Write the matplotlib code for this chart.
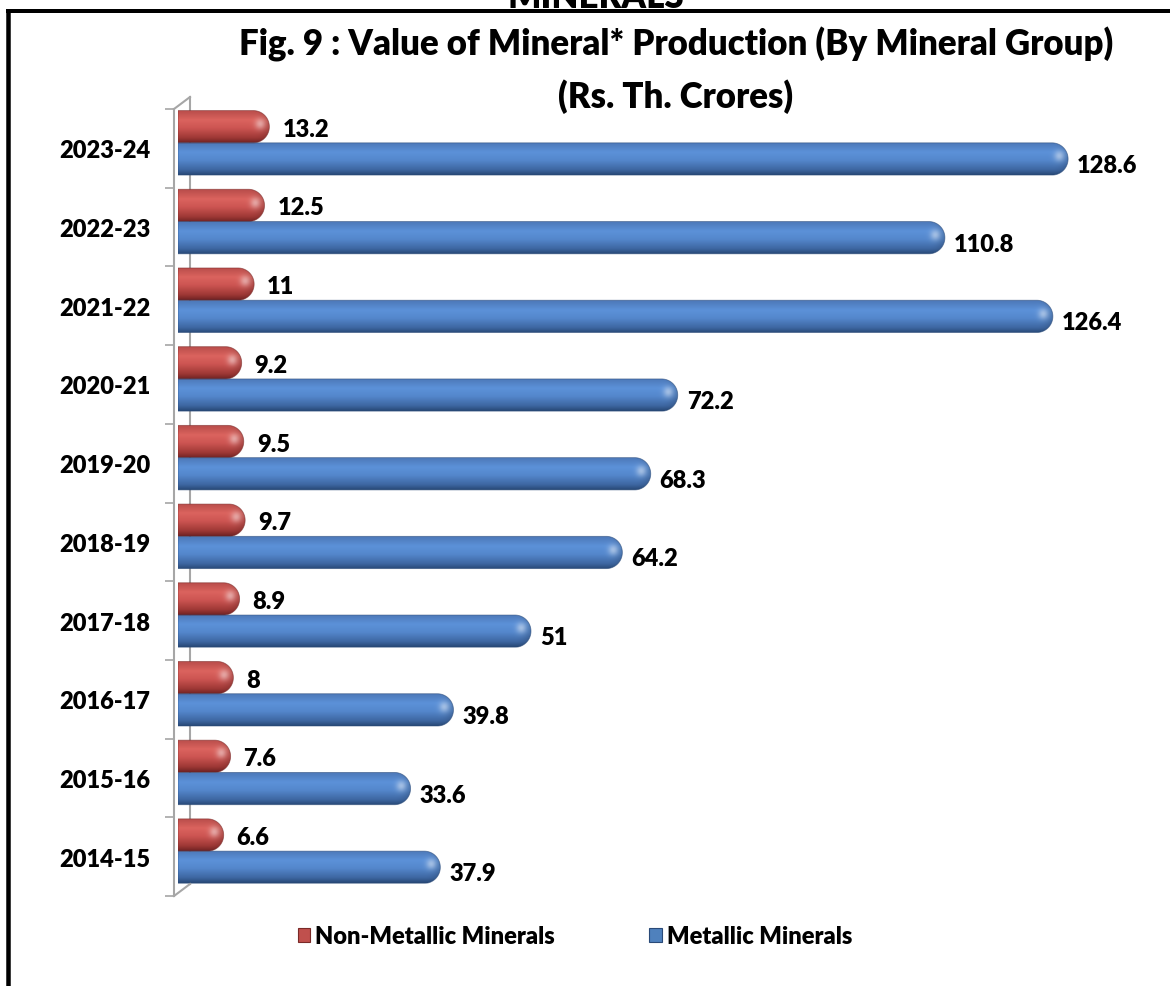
import numpy as np
import matplotlib
matplotlib.use("Agg")
import matplotlib.pyplot as plt
from matplotlib.path import Path
from matplotlib.patches import PathPatch, Patch
from matplotlib.lines import Line2D
import matplotlib.transforms as mtransforms

# ---------------- data ----------------
years = ['2014-15', '2015-16', '2016-17', '2017-18', '2018-19',
         '2019-20', '2020-21', '2021-22', '2022-23', '2023-24']
non_metallic = [6.6, 7.6, 8.0, 8.9, 9.7, 9.5, 9.2, 11.0, 12.5, 13.2]
metallic = [37.9, 33.6, 39.8, 51.0, 64.2, 68.3, 72.2, 126.4, 110.8, 128.6]
non_metallic_labels = ['6.6', '7.6', '8', '8.9', '9.7', '9.5', '9.2', '11', '12.5', '13.2']
metallic_labels = ['37.9', '33.6', '39.8', '51', '64.2', '68.3', '72.2', '126.4', '110.8', '128.6']
series_names = ['Non-Metallic Minerals', 'Metallic Minerals']

FONT = ['Lato', 'DejaVu Sans']
plt.rcParams['font.family'] = FONT
WEIGHT = 'heavy'

W, H, DPI = 1170, 987, 100
fig = plt.figure(figsize=(W / DPI, H / DPI), dpi=DPI)
fig.patch.set_facecolor('white')

ax_left, ax_right = 178, 1147
ax_top, ax_bot = 110, 897
ax = fig.add_axes([ax_left / W, 1 - ax_bot / H, (ax_right - ax_left) / W, (ax_bot - ax_top) / H])
XMAX = 140
n = len(years)
ax.set_xlim(0, XMAX)
ax.set_ylim(-0.5, n - 0.5)
pxx = (ax_right - ax_left) / XMAX
pxy = (ax_bot - ax_top) / n

BAR_H = 0.41
y = np.arange(n)
y_red = y + 0.275
y_blue = y - 0.135

red_stops = [(0.0, (0.72, 0.30, 0.29)), (0.3, (0.86, 0.39, 0.37)), (0.55, (0.80, 0.33, 0.32)),
             (0.85, (0.62, 0.22, 0.21)), (1.0, (0.45, 0.14, 0.14))]
blue_stops = [(0.0, (0.30, 0.47, 0.72)), (0.3, (0.36, 0.57, 0.85)), (0.55, (0.33, 0.53, 0.80)),
              (0.85, (0.24, 0.40, 0.63)), (1.0, (0.16, 0.29, 0.47))]


def make_img(wpx, hpx, stops, rxp):
    pos = [p for p, _ in stops]
    cols = np.array([c for _, c in stops])
    t = np.linspace(0, 1, hpx)
    base = np.stack([np.interp(t, pos, cols[:, k]) for k in range(3)], axis=-1)
    img = np.repeat(base[:, None, :], wpx, axis=1)
    xs = np.arange(wpx) + 0.5
    cap_start = wpx - rxp
    u = np.clip((xs - cap_start) / rxp, 0, 1)
    fac = 1 - 0.18 * u ** 2
    img = img * fac[None, :, None]
    yy, xx = np.mgrid[0:hpx, 0:wpx] + 0.5
    cx, cy = wpx - rxp * 0.6, hpx * 0.42
    d = np.sqrt((xx - cx) ** 2 + (yy - cy) ** 2)
    hl = np.exp(-(d / (rxp * 0.32)) ** 2) * 0.45
    img = img + (1 - img) * hl[..., None]
    return np.clip(img, 0, 1)


def capsule(x0, y0, w, h, rx):
    rx = min(rx, w)
    xc = x0 + w - rx
    yc = y0 + h / 2
    th = np.linspace(-np.pi / 2, np.pi / 2, 50)
    arc = np.column_stack([xc + rx * np.cos(th), yc + (h / 2) * np.sin(th)])
    verts = [(x0, y0)] + [tuple(p) for p in arc] + [(x0, y0 + h), (x0, y0)]
    codes = [Path.MOVETO] + [Path.LINETO] * (len(verts) - 2) + [Path.CLOSEPOLY]
    return Path(verts, codes)


def draw_cylinders(bars, stops, edge):
    for b in bars:
        b.set_visible(False)
        x0, y0, w, h = b.get_x(), b.get_y(), b.get_width(), b.get_height()
        hpx = max(int(round(h * pxy)), 2)
        wpx = max(int(round(w * pxx)), 2)
        rxp = hpx / 2.0
        rx = rxp / pxx
        path = capsule(x0, y0, w, h, rx)
        img = make_img(wpx, hpx, stops, rxp)
        im = ax.imshow(img, extent=(x0, x0 + w, y0, y0 + h), origin='upper',
                       aspect='auto', interpolation='bilinear', zorder=3)
        clip = PathPatch(path, transform=ax.transData, facecolor='none', edgecolor='none')
        ax.add_patch(clip)
        im.set_clip_path(clip)
        ax.add_patch(PathPatch(path, facecolor='none', edgecolor=edge, lw=0.6, alpha=0.6, zorder=4))


red_bars = ax.barh(y_red, non_metallic, height=BAR_H, color='#C0504D')
blue_bars = ax.barh(y_blue, metallic, height=BAR_H, color='#4F81BD')
draw_cylinders(red_bars, red_stops, '#7a2a28')
draw_cylinders(blue_bars, blue_stops, '#2a4a78')
ax.set_xlim(0, XMAX)
ax.set_ylim(-0.5, n - 0.5)

# value labels
LBL = 17
for yy_, v, lab in zip(y_red, non_metallic, non_metallic_labels):
    ax.annotate(lab, (v, yy_), xytext=(13, -2), textcoords='offset pixels',
                ha='left', va='center', fontsize=LBL, fontweight=WEIGHT, color='black', zorder=5)
for yy_, v, lab in zip(y_blue, metallic, metallic_labels):
    ax.annotate(lab, (v, yy_), xytext=(9, -6), textcoords='offset pixels',
                ha='left', va='center', fontsize=LBL, fontweight=WEIGHT, color='black', zorder=5)

# axes styling (3D wall look)
wall = '#A6A6A6'
for s in ['top', 'right', 'bottom']:
    ax.spines[s].set_visible(False)
ax.spines['left'].set_position(('outward', 3))
ax.spines['left'].set_color(wall)
ax.spines['left'].set_linewidth(1.5)
ax.set_xticks([])
ax.set_yticks(y)
ax.set_yticklabels(years, fontsize=17, fontweight=WEIGHT)
ax.set_yticks(np.arange(n + 1) - 0.5, minor=True)
ax.tick_params(axis='y', which='major', length=0, pad=17)
ax.tick_params(axis='y', which='minor', length=6.5, width=1.2, color=wall)


def off(dx, dy):
    return ax.transAxes + mtransforms.ScaledTranslation(dx / DPI, dy / DPI, fig.dpi_scale_trans)


dxb, dyb = 12, 12
ax.add_line(Line2D([0, 0], [0, 1], transform=off(dxb, dyb), color=wall, lw=1.5, zorder=1, clip_on=False))
inv = fig.transFigure.inverted()
for yv in (0, 1):
    p0 = off(-4, 0).transform((0, yv))
    p1 = off(dxb, dyb).transform((0, yv))
    a, b = inv.transform(p0), inv.transform(p1)
    fig.add_artist(Line2D([a[0], b[0]], [a[1], b[1]], transform=fig.transFigure, color=wall, lw=1.5, zorder=1))

# legend
handles = [Patch(facecolor='#C0504D', edgecolor='#7a2a28', lw=0.8),
           Patch(facecolor='#4F81BD', edgecolor='#2a4a78', lw=0.8)]
fig.legend(handles, series_names, loc='center', bbox_to_anchor=(575 / W, 1 - 937 / H),
           ncol=2, frameon=False, handlelength=0.55, handleheight=0.55, handletextpad=0.2,
           columnspacing=4.0, prop={'size': 17, 'weight': WEIGHT, 'family': FONT})

# titles
fig.text(676 / W, 1 - 55 / H, 'Fig. 9 : Value of Mineral* Production (By Mineral Group)',
         ha='center', va='baseline', fontsize=25, fontweight=WEIGHT)
fig.text(676 / W, 1 - 108 / H, '(Rs. Th. Crores)', ha='center', va='baseline',
         fontsize=25, fontweight=WEIGHT)
fig.text(596 / W, 1 - 8 / H, 'MINERALS', ha='center', va='baseline', fontsize=25, fontweight=WEIGHT)

# page frame
fig.add_artist(Line2D([8 / W, 8 / W], [1 - 12 / H, 0], transform=fig.transFigure,
                      color='black', lw=4.5 * 72 / DPI, solid_capstyle='projecting'))
fig.add_artist(Line2D([8 / W, 1], [1 - 12 / H, 1 - 12 / H], transform=fig.transFigure,
                      color='black', lw=4 * 72 / DPI, solid_capstyle='projecting'))

fig.savefig('out.png', dpi=DPI, facecolor='white')
